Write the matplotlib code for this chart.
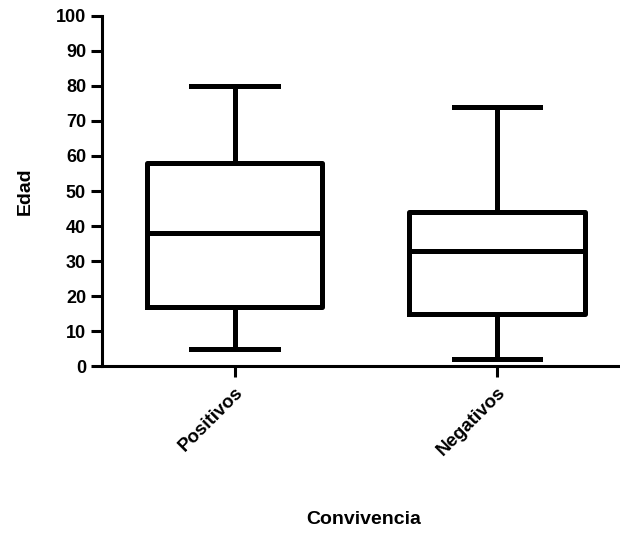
import matplotlib
matplotlib.use("Agg")
import matplotlib.pyplot as plt

grupos = ["Positivos", "Negativos"]
minimo = [5, 2]
q1 = [17, 15]
mediana = [38, 33]
q3 = [58, 44]
maximo = [80, 74]

plt.rcParams['font.family'] = ['Liberation Sans', 'DejaVu Sans']
plt.rcParams['font.weight'] = 'bold'

fig = plt.figure(figsize=(6.2, 5.33), dpi=100)
ax = fig.add_axes([0.1645, 0.3133, 0.8355, 0.6567])

stats = []
for i in range(len(grupos)):
    stats.append({"label": grupos[i], "whislo": minimo[i], "q1": q1[i],
                  "med": mediana[i], "q3": q3[i], "whishi": maximo[i], "fliers": []})

lw = 3.6
ax.bxp(stats, positions=[1, 2], widths=0.67, showfliers=False,
       boxprops=dict(color="black", linewidth=lw),
       medianprops=dict(color="black", linewidth=lw),
       whiskerprops=dict(color="black", linewidth=lw),
       capprops=dict(color="black", linewidth=lw),
       capwidths=0.33)

ax.set_xlim(0.494, 2.47)
ax.set_ylim(0, 100)
ax.set_yticks(range(0, 101, 10))
ax.set_xticks([1, 2])
ax.set_xticklabels(grupos, rotation=45, ha="right", rotation_mode="anchor",
                   fontsize=13.5, fontweight="bold")
ax.tick_params(axis="y", labelsize=13, width=2.2, length=8)
ax.tick_params(axis="x", width=2.2, length=8, pad=5)
for lab in ax.get_yticklabels():
    lab.set_fontweight("bold")

ax.spines["top"].set_visible(False)
ax.spines["right"].set_visible(False)
ax.spines["left"].set_linewidth(2.2)
ax.spines["bottom"].set_linewidth(2.2)
ax.spines["left"].set_bounds(0, 100)

ax.set_ylabel("Edad", fontsize=14, fontweight="bold", labelpad=16)
ax.set_xlabel("Convivencia", fontsize=14, fontweight="bold")
ax.xaxis.set_label_coords(0.505, -0.415)

fig.savefig("out.png", dpi=100)
